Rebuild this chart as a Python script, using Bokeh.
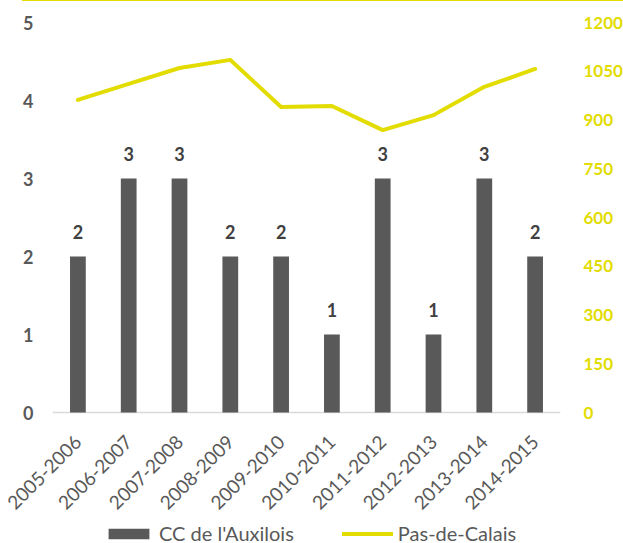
import math
from bokeh.plotting import figure
from bokeh.models import (ColumnDataSource, Range1d, LinearAxis, FixedTicker,
                          FactorRange, Legend, LegendItem, Div, Span)
from bokeh.layouts import column
from bokeh.embed import file_html
from bokeh.resources import INLINE
from bokeh.core.properties import value

# ---- data ----
seasons = ["2005-2006", "2006-2007", "2007-2008", "2008-2009", "2009-2010",
           "2010-2011", "2011-2012", "2012-2013", "2013-2014", "2014-2015"]
cc_auxilois = [2, 3, 3, 2, 2, 1, 3, 1, 3, 2]
pas_de_calais = [962, 1011, 1060, 1085, 940, 943, 869, 915, 1002, 1057]
left_ticks = [0, 1, 2, 3, 4, 5]
right_ticks = [0, 150, 300, 450, 600, 750, 900, 1050, 1200]
series_names = ["CC de l'Auxilois", "Pas-de-Calais"]

GREY = "#595959"
YELLOW = "#E2DC00"
FONT = "Lato"

# layout: value axis spans 390 px, the frame continues below zero to hold
# the category labels and the legend
PLOT_PX = 390
FRAME_PX = 525
extra = (FRAME_PX - PLOT_PX) / PLOT_PX
left_max, right_max = 5, 1200

src = ColumnDataSource(dict(x=seasons, bars=cc_auxilois, line=pas_de_calais,
                            lbl=[str(v) for v in cc_auxilois]))

p = figure(frame_width=508, frame_height=FRAME_PX,
           x_range=FactorRange(*seasons, range_padding=0),
           y_range=Range1d(-left_max * extra, left_max),
           output_backend="svg", toolbar_location=None,
           min_border_left=52, min_border_right=60, min_border_top=21,
           min_border_bottom=0)
p.extra_y_ranges = {"right": Range1d(-right_max * extra, right_max)}
p.outline_line_color = None
p.xgrid.grid_line_color = None
p.ygrid.grid_line_color = None
p.background_fill_color = None
p.border_fill_color = None

baseline = Span(location=0, dimension="width", line_color="#D9D9D9",
                line_width=1.5, level="underlay")
p.add_layout(baseline)

bars = p.vbar(x="x", top="bars", width=0.31, source=src, fill_color=GREY,
              line_color=None)
line = p.line(x="x", y="line", source=src, y_range_name="right",
              line_color=YELLOW, line_width=4, line_join="round", line_cap="round")

# data labels
p.text(x="x", y="bars", text="lbl", source=src, text_align="center",
       text_baseline="middle", y_offset=-25, text_font=value(FONT),
       text_font_style="bold", text_font_size="18px", text_color="#404040")

# category axis: labels pulled up to the zero line
xa = p.xaxis[0]
xa.axis_line_color = None
xa.major_tick_line_color = None
xa.minor_tick_line_color = None
xa.major_tick_out = 0
xa.major_tick_in = 0
xa.major_label_standoff = -(FRAME_PX - PLOT_PX) + 26
xa.major_label_orientation = math.pi / 4
xa.major_label_text_font = FONT
xa.major_label_text_font_size = "19px"
xa.major_label_text_color = GREY

# left axis
la = p.yaxis[0]
la.ticker = FixedTicker(ticks=left_ticks)
la.axis_line_color = None
la.major_tick_line_color = None
la.minor_tick_line_color = None
la.major_tick_out = 0
la.major_tick_in = 0
la.major_label_standoff = 19
la.major_label_text_font = FONT
la.major_label_text_font_style = "bold"
la.major_label_text_font_size = "18px"
la.major_label_text_color = GREY

# right axis
ra = LinearAxis(y_range_name="right", ticker=FixedTicker(ticks=right_ticks))
ra.axis_line_color = None
ra.major_tick_line_color = None
ra.minor_tick_line_color = None
ra.major_tick_out = 0
ra.major_tick_in = 0
ra.major_label_standoff = 23
ra.major_label_text_font = FONT
ra.major_label_text_font_style = "bold"
ra.major_label_text_font_size = "17px"
ra.major_label_text_color = YELLOW
p.add_layout(ra, "right")

legend = Legend(items=[LegendItem(label=series_names[0], renderers=[bars]),
                       LegendItem(label=series_names[1], renderers=[line])],
                orientation="horizontal", location=(51, 2),
                border_line_color=None, background_fill_alpha=0,
                padding=0, margin=0, spacing=48, label_standoff=5,
                glyph_width=51, glyph_height=13,
                label_text_font=FONT, label_text_font_size="20px",
                label_text_color=GREY)
p.add_layout(legend, "center")

topline = Div(text="", width=601, height=1, margin=(0, 0, 0, 22),
              styles={"background-color": YELLOW})

layout = column(topline, p, spacing=0)
open("out.html", "w").write(file_html(layout, INLINE))
